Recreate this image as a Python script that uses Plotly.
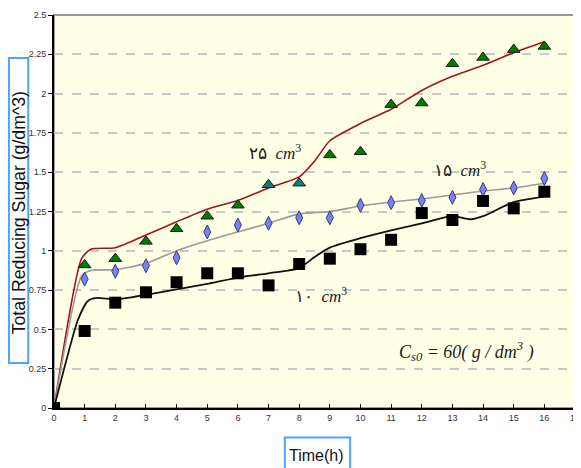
import plotly.graph_objects as go

# ---- measured data ----
time_pts = list(range(0, 17))
sugar_25 = [0, 0.91, 0.95, 1.06, 1.14, 1.22, 1.29, 1.42, 1.43, 1.61, 1.63, 1.93, 1.94, 2.19, 2.23, 2.28, 2.30]
sugar_15 = [0, 0.82, 0.87, 0.905, 0.956, 1.12, 1.164, 1.175, 1.21, 1.21, 1.29, 1.306, 1.32, 1.34, 1.39, 1.40, 1.46]
sugar_10 = [0, 0.49, 0.67, 0.736, 0.80, 0.857, 0.857, 0.78, 0.916, 0.95, 1.01, 1.07, 1.24, 1.196, 1.317, 1.27, 1.376]
tri_colors = ["#007a00"] * 7 + ["#008080", "#008080"] + ["#007a00"] * 8

# ---- model curves ----
fit25_t = [0, 0.9, 1.2, 2, 3, 4, 5, 6, 7, 8, 8.5, 9, 10, 11, 12, 13, 14, 15, 16]
fit25_y = [0, 0.95, 1.01, 1.02, 1.10, 1.185, 1.265, 1.32, 1.40, 1.47, 1.57, 1.70, 1.81, 1.90, 2.02, 2.11, 2.18, 2.26, 2.33]
fit15_t = [0, 0.9, 1.2, 2, 3, 4, 5, 6, 7, 8, 9, 10, 11, 12, 13, 14, 15, 16]
fit15_y = [0, 0.84, 0.875, 0.88, 0.92, 1.0, 1.064, 1.12, 1.175, 1.235, 1.25, 1.285, 1.31, 1.33, 1.355, 1.38, 1.40, 1.43]
fit10_t = [0, 0.78, 1.1, 1.4, 2, 3, 4, 5, 6, 7, 8, 8.5, 9, 10, 11, 12, 13, 13.6, 14, 15, 16]
fit10_y = [0, 0.56, 0.68, 0.70, 0.69, 0.72, 0.755, 0.79, 0.83, 0.857, 0.89, 0.96, 1.02, 1.08, 1.13, 1.175, 1.22, 1.20, 1.22, 1.31, 1.345]

y_ticks = [0, 0.25, 0.5, 0.75, 1, 1.25, 1.5, 1.75, 2, 2.25, 2.5]
y_tick_text = ["0", "0.25", "0.5", "0.75", "1", "1.25", "1.5", "1.75", "2", "2.25", "2.5"]
x_ticks = list(range(0, 18))

# page has an 8px body margin; layout below is in figure pixels
OFF = 8
W, H = 573, 460
ML, MR, MT, MB = 46, 1, 7, 60
PW, PH = W - ML - MR, H - MT - MB


def px_x(page_x):
    return (page_x - OFF - ML) / PW


def px_y(page_y):
    return (H - MB - (page_y - OFF)) / PH


fig = go.Figure()

fig.add_trace(go.Scatter(x=fit25_t, y=fit25_y, mode="lines", line=dict(color="#a3141e", width=1.6, shape="spline", smoothing=0.6)))
fig.add_trace(go.Scatter(x=fit15_t, y=fit15_y, mode="lines", line=dict(color="#9a9a9a", width=1.6, shape="spline", smoothing=0.6)))
fig.add_trace(go.Scatter(x=fit10_t, y=fit10_y, mode="lines", line=dict(color="#111111", width=1.8, shape="spline", smoothing=0.6)))

fig.add_trace(go.Scatter(x=time_pts, y=sugar_25, mode="markers",
                         marker=dict(symbol="triangle-up", size=11, color=tri_colors, line=dict(color="#1a1a1a", width=1))))
fig.add_trace(go.Scatter(x=time_pts, y=sugar_15, mode="markers",
                         marker=dict(symbol="diamond-tall", size=10, color="#7b80f2", line=dict(color="#3a3a7a", width=1))))
fig.add_trace(go.Scatter(x=time_pts, y=sugar_10, mode="markers",
                         marker=dict(symbol="square", size=12, color="#000000", line=dict(color="#000000", width=0))))

serif = "Liberation Serif, Times New Roman, serif"
ann_font = dict(family=serif, size=17, color="#222222")

fig.update_layout(
    width=W, height=H,
    margin=dict(l=ML, r=MR, t=MT, b=MB),
    paper_bgcolor="white",
    plot_bgcolor="#ffffe6",
    showlegend=False,
    xaxis=dict(range=[0, 17], tickmode="array", tickvals=x_ticks, ticks="inside", ticklen=4,
               tickcolor="#000", showgrid=False, zeroline=False, showline=True, linecolor="#000",
               linewidth=2, ticklabeloverflow="allow",
               tickfont=dict(family="Liberation Sans, Arial", size=9, color="#333")),
    yaxis=dict(range=[0, 2.5], tickmode="array", tickvals=y_ticks, ticktext=y_tick_text, ticks="outside",
               ticklen=4, tickcolor="#000", showgrid=True, gridcolor="#c8c8c8", griddash="dash", gridwidth=1.5,
               zeroline=False, showline=True, linecolor="#000", linewidth=2,
               tickfont=dict(family="Liberation Sans, Arial", size=9, color="#333")),
    shapes=[
        dict(type="rect", xref="paper", yref="paper", x0=0, x1=1, y0=0, y1=1,
             line=dict(color="#9a9a9a", width=2), layer="below"),
        dict(type="rect", xref="paper", yref="paper", x0=px_x(8.5), x1=px_x(28), y0=px_y(363), y1=px_y(58),
             line=dict(color="#4da3ff", width=2)),
        dict(type="rect", xref="paper", yref="paper", x0=px_x(287), x1=px_x(353), y0=px_y(472), y1=px_y(437.5),
             line=dict(color="#4da3ff", width=2)),
    ],
    annotations=[
        dict(x=7.2, y=1.63, xref="x", yref="y", text="۲۵  <i>cm</i><sup>3</sup>", showarrow=False, font=ann_font),
        dict(x=13.25, y=1.52, xref="x", yref="y", text="۱۵  <i>cm</i><sup>3</sup>", showarrow=False, font=ann_font),
        dict(x=8.7, y=0.72, xref="x", yref="y", text="۱۰  <i>cm</i><sup>3</sup>", showarrow=False, font=ann_font),
        dict(x=13.45, y=0.36, xref="x", yref="y",
             text="<i>C<sub>s0</sub> = 60( g / dm<sup>3</sup> )</i>", showarrow=False,
             font=dict(family=serif, size=18, color="#222222")),
        dict(x=px_x(18.5), y=px_y(212.5), xref="paper", yref="paper", xanchor="center", yanchor="middle",
             text="Total Reducing Sugar (g/dm^3)", textangle=-90, showarrow=False,
             font=dict(family="Liberation Sans, Arial", size=17.7, color="#111")),
        dict(x=px_x(319), y=px_y(455), xref="paper", yref="paper", xanchor="center", yanchor="middle",
             text="Time(h)", showarrow=False,
             font=dict(family="Liberation Sans, Arial", size=16, color="#111")),
    ],
)

fig.write_html("out.html")
